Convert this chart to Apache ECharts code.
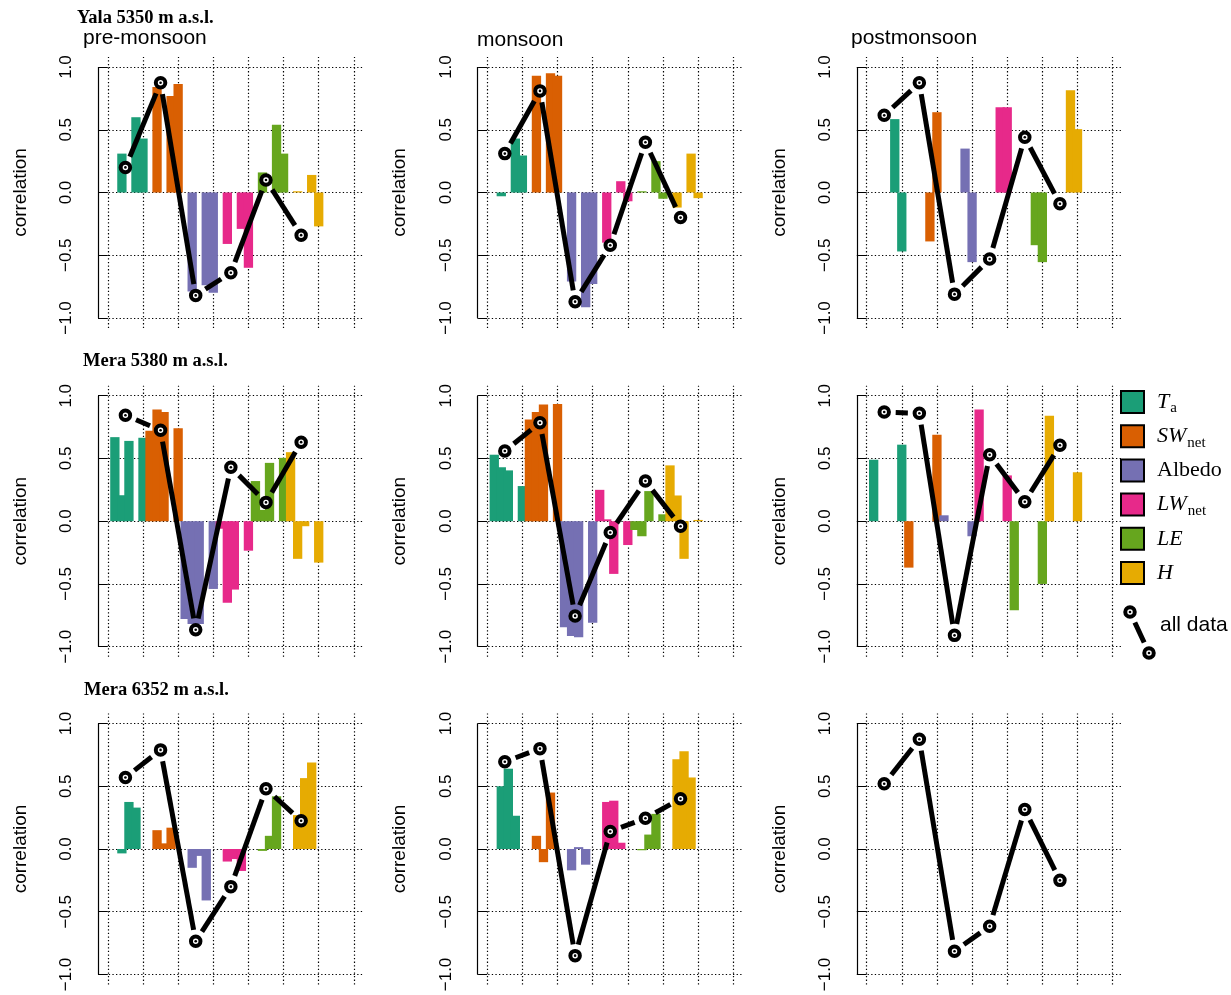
<!DOCTYPE html>
<html><head><meta charset="utf-8">
<script src="https://cdn.jsdelivr.net/npm/echarts@6/dist/echarts.min.js"></script>
<style>html,body{margin:0;padding:0;background:#fff}#c{width:1231px;height:995px}</style>
</head><body><div id="c"></div>
<script>
// ---------------- data ----------------
const variables = ['Ta', 'SWnet', 'Albedo', 'LWnet', 'LE', 'H'];
const colors = ['#1B9E77', '#D95F02', '#7570B3', '#E7298A', '#66A61E', '#E6AB02'];
const sites = ['Yala 5350 m a.s.l.', 'Mera 5380 m a.s.l.', 'Mera 6352 m a.s.l.'];
const seasons = ['pre-monsoon', 'monsoon', 'postmonsoon'];
const yTicks = [-1, -0.5, 0, 0.5, 1];
const xGridLines = [0, 1, 2, 3, 4, 5, 6, 7];

// per-variable correlations for 5 sub-periods (null = no data)
const yalaPreBars = [
  [null, 0.31, null, 0.60, 0.43],
  [null, 0.84, null, 0.77, 0.865],
  [null, -0.79, null, -0.74, -0.80],
  [null, -0.41, null, -0.29, -0.60],
  [null, 0.16, null, 0.54, 0.31],
  [null, 0.01, null, 0.14, -0.27]];
const yalaPreAll = [0.20, 0.875, -0.82, -0.64, 0.10, -0.34];

const yalaMonBars = [
  [null, -0.03, null, 0.43, 0.295],
  [null, 0.93, null, 0.95, 0.93],
  [null, -0.71, null, -0.915, -0.73],
  [null, -0.40, null, 0.09, -0.07],
  [null, 0.01, null, 0.25, -0.05],
  [null, -0.12, null, 0.31, -0.045]];
const yalaMonAll = [0.31, 0.81, -0.87, -0.42, 0.40, -0.20];

const yalaPostBars = [
  [null, null, null, 0.585, -0.47],
  [null, null, null, -0.39, 0.64],
  [null, null, null, 0.35, -0.555],
  [null, null, null, 0.68, 0.68],
  [null, null, null, -0.42, -0.555],
  [null, null, null, 0.815, 0.505]];
const yalaPostAll = [0.615, 0.875, -0.81, -0.53, 0.44, -0.09];

const mera5380PreBars = [
  [0.67, 0.207, 0.64, null, 0.665],
  [0.72, 0.89, 0.87, null, 0.74],
  [-0.78, -0.82, -0.82, null, -0.54],
  [-0.06, -0.65, -0.545, null, -0.235],
  [0.32, 0.09, 0.465, null, 0.505],
  [0.55, -0.30, -0.04, null, -0.33]];
const mera5380PreAll = [0.845, 0.725, -0.865, 0.43, 0.15, 0.63];

const mera5380MonBars = [
  [0.53, 0.43, 0.405, null, 0.28],
  [0.81, 0.87, 0.93, null, 0.935],
  [-0.845, -0.915, -0.925, null, -0.81],
  [0.25, 0.015, -0.42, null, -0.19],
  [-0.07, -0.12, 0.24, null, 0.055],
  [0.445, 0.205, -0.30, null, 0.01]];
const mera5380MonAll = [0.56, 0.785, -0.755, -0.09, 0.32, -0.04];

const mera5380PostBars = [
  [0.49, null, null, null, 0.61],
  [-0.37, null, null, null, 0.69],
  [0.047, null, null, null, -0.12],
  [0.89, null, null, null, 0.365],
  [-0.71, null, null, null, -0.50],
  [0.84, null, null, null, 0.39]];
const mera5380PostAll = [0.87, 0.86, -0.91, 0.53, 0.155, 0.605];

const mera6352PreBars = [
  [null, -0.035, 0.375, 0.33, null],
  [null, 0.15, 0.045, 0.17, null],
  [null, -0.15, -0.055, -0.41, null],
  [null, -0.10, -0.08, -0.175, null],
  [null, -0.015, 0.105, 0.42, null],
  [null, 0.27, 0.565, 0.69, null]];
const mera6352PreAll = [0.57, 0.79, -0.735, -0.30, 0.48, 0.225];

const mera6352MonBars = [
  [null, 0.50, 0.64, 0.265, null],
  [null, 0.105, -0.105, 0.45, null],
  [null, -0.17, 0.015, -0.125, null],
  [null, 0.375, 0.385, 0.05, null],
  [null, -0.01, 0.115, 0.28, null],
  [null, 0.715, 0.78, 0.57, null]];
const mera6352MonAll = [0.695, 0.80, -0.85, 0.14, 0.245, 0.40];

const mera6352PostBars = [];
const mera6352PostAll = [0.52, 0.875, -0.815, -0.615, 0.315, -0.25];

// ---------------- layout ----------------
const panels = [
  [yalaPreBars, yalaPreAll], [yalaMonBars, yalaMonAll], [yalaPostBars, yalaPostAll],
  [mera5380PreBars, mera5380PreAll], [mera5380MonBars, mera5380MonAll], [mera5380PostBars, mera5380PostAll],
  [mera6352PreBars, mera6352PreAll], [mera6352MonBars, mera6352MonAll], [mera6352PostBars, mera6352PostAll]];
const lefts = [98, 477.4, 856.8], tops = [57, 385.7, 713.5], PW = 265.7, PH = 271;
const BW = 0.265, GAP = 11.5;
const SANS = '"Liberation Sans", Arial, sans-serif', SERIF = '"Liberation Serif", "Times New Roman", serif';

const grids = [], xAxes = [], yAxes = [], series = [];
const fmt = v => (v < 0 ? '\u2212' : '') + Math.abs(v).toFixed(1);

panels.forEach((p, i) => {
  const [bars, all] = p;
  grids.push({ left: lefts[i % 3], top: tops[Math.floor(i / 3)], width: PW, height: PH });
  xAxes.push({ gridIndex: i, type: 'value', min: -0.28, max: 7.28, show: false });
  yAxes.push({
    gridIndex: i, type: 'value', min: -1.08, max: 1.08,
    name: 'correlation', nameLocation: 'middle', nameGap: 68, nameRotate: 90,
    nameTextStyle: { fontFamily: SANS, fontSize: 19, color: '#000' },
    axisLine: { show: false }, splitLine: { show: false },
    axisTick: { show: true, customValues: yTicks, length: 9, lineStyle: { color: '#000', width: 1 } },
    axisLabel: { customValues: yTicks, rotate: 90, margin: 23, fontSize: 17, fontFamily: SANS, color: '#000', formatter: fmt }
  });
  const dotted = { type: [1.3, 2.3], color: '#000', width: 1.2 };
  const mlData = [];
  yTicks.forEach(v => mlData.push({ yAxis: v, lineStyle: dotted }));
  xGridLines.forEach(v => mlData.push({ xAxis: v, lineStyle: dotted }));
  mlData.push([{ coord: [-0.28, -1], lineStyle: { type: 'solid', color: '#000', width: 1.2 } },
               { coord: [-0.28, 1], lineStyle: { type: 'solid', color: '#000', width: 1.2 } }]);
  series.push({
    type: 'line', xAxisIndex: i, yAxisIndex: i, data: [], z: 1, silent: true,
    markLine: { silent: true, symbol: ['none', 'none'], label: { show: false }, z: 1, animation: false, data: mlData }
  });
  // bars
  const barData = [];
  bars.forEach((grp, g) => grp.forEach((v, k) => { if (v != null) barData.push([g + 0.2 * (k + 1), v, g]); }));
  series.push({
    type: 'custom', xAxisIndex: i, yAxisIndex: i, z: 2, silent: true, data: barData,
    renderItem: (params, api) => {
      const x = api.value(0), v = api.value(1), g = api.value(2);
      const a = api.coord([x - BW / 2, v]), b = api.coord([x + BW / 2, 0]);
      return { type: 'rect', shape: { x: a[0], y: Math.min(a[1], b[1]), width: b[0] - a[0], height: Math.abs(b[1] - a[1]) },
               style: { fill: colors[g] } };
    }
  });
  // all-data line with gaps around points
  const segData = [];
  for (let g = 0; g < all.length - 1; g++) segData.push([g + 0.5, all[g], g + 1.5, all[g + 1]]);
  series.push({
    type: 'custom', xAxisIndex: i, yAxisIndex: i, z: 3, silent: true, data: segData,
    renderItem: (params, api) => {
      const p0 = api.coord([api.value(0), api.value(1)]), p1 = api.coord([api.value(2), api.value(3)]);
      const dx = p1[0] - p0[0], dy = p1[1] - p0[1], len = Math.hypot(dx, dy);
      if (len <= 2 * GAP) return null;
      const ux = dx / len, uy = dy / len;
      return { type: 'line', shape: { x1: p0[0] + ux * GAP, y1: p0[1] + uy * GAP, x2: p1[0] - ux * GAP, y2: p1[1] - uy * GAP },
               style: { stroke: '#000', lineWidth: 5, lineCap: 'butt' } };
    }
  });
  const ptData = all.map((v, g) => [g + 0.5, v]);
  series.push({ type: 'scatter', xAxisIndex: i, yAxisIndex: i, z: 4, silent: true, data: ptData, symbol: 'circle', symbolSize: 9.5,
                itemStyle: { color: '#fff', borderColor: '#000', borderWidth: 4, opacity: 1 } });
  series.push({ type: 'scatter', xAxisIndex: i, yAxisIndex: i, z: 5, silent: true, data: ptData, symbol: 'circle', symbolSize: 2.6,
                itemStyle: { color: '#000', opacity: 1 } });
});

// ---------------- titles & legend ----------------
const graphic = [];
const txt = (x, y, text, font, extra) => Object.assign({ type: 'text', x, y, silent: true,
  style: Object.assign({ text, font, fill: '#000', verticalAlign: 'middle', textVerticalAlign: 'middle', align: 'left', textAlign: 'left' }, extra || {}) });
const siteY = [18.7, 361.7, 690.7], siteX = [77, 83, 84];
sites.forEach((s, r) => graphic.push(txt(siteX[r], siteY[r], s, 'bold 18.5px ' + SERIF)));
const seasonX = [83, 477, 851], seasonY = [38, 40, 38];
seasons.forEach((s, c) => graphic.push(txt(seasonX[c], seasonY[c], s, '21px ' + SANS)));

const legendLabels = ['{i|T}{s|a}', '{i|SW}{s|net}', '{n|Albedo}', '{i|LW}{s|net}', '{i|LE}', '{i|H}'];
const rich = {
  i: { fontFamily: SERIF, fontStyle: 'italic', fontSize: 22, lineHeight: 22, verticalAlign: 'top', fill: '#000' },
  n: { fontFamily: SERIF, fontSize: 22, lineHeight: 22, verticalAlign: 'top', fill: '#000' },
  s: { fontFamily: SERIF, fontSize: 15, lineHeight: 15, padding: [10, 0, 0, 1], verticalAlign: 'top', fill: '#000' }
};
variables.forEach((v, j) => {
  const cy = 402 + j * 34.2;
  graphic.push({ type: 'rect', silent: true, shape: { x: 1121, y: cy - 11, width: 23, height: 22 },
                 style: { fill: colors[j], stroke: '#000', lineWidth: 2 } });
  graphic.push({ type: 'text', x: 1157, y: cy - 11, silent: true,
                 style: { text: legendLabels[j], rich, fill: '#000', font: '22px ' + SERIF, verticalAlign: 'top', textVerticalAlign: 'top' } });
});
// "all data" key
const la = [1130, 612], lb = [1149, 653];
{
  const dx = lb[0] - la[0], dy = lb[1] - la[1], len = Math.hypot(dx, dy), ux = dx / len, uy = dy / len;
  graphic.push({ type: 'line', silent: true, shape: { x1: la[0] + ux * GAP, y1: la[1] + uy * GAP, x2: lb[0] - ux * GAP, y2: lb[1] - uy * GAP },
                 style: { stroke: '#000', lineWidth: 5 } });
  [la, lb].forEach(c => {
    graphic.push({ type: 'circle', silent: true, shape: { cx: c[0], cy: c[1], r: 4.75 }, style: { fill: '#fff', stroke: '#000', lineWidth: 4 } });
    graphic.push({ type: 'circle', silent: true, shape: { cx: c[0], cy: c[1], r: 1.3 }, style: { fill: '#000' } });
  });
}
graphic.push(txt(1160, 625, 'all data', '21px ' + SANS));

const chart = echarts.init(document.getElementById('c'), null, { renderer: 'canvas' });
chart.setOption({
  backgroundColor: '#fff', animation: false,
  grid: grids, xAxis: xAxes, yAxis: yAxes, series, graphic
});
</script>
</body></html>
